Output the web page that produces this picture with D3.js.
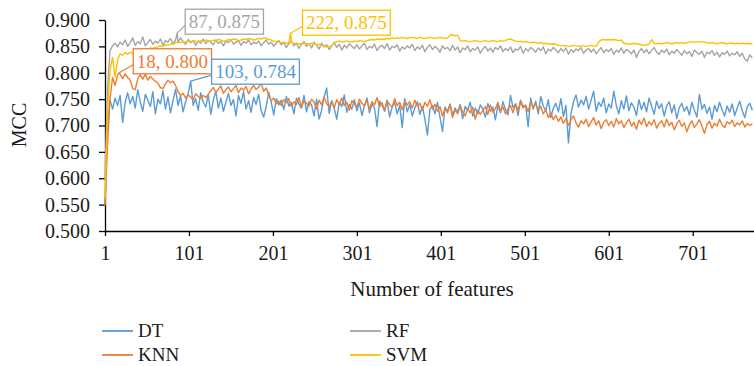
<!DOCTYPE html>
<html>
<head>
<meta charset="utf-8">
<script src="https://cdn.jsdelivr.net/npm/d3@7"></script>
<style>
  body { margin: 0; background: #fff; }
  svg { display: block; }
  text { font-family: "Liberation Serif", "Times New Roman", serif; }
</style>
</head>
<body>
<svg id="chart" width="754" height="366"></svg>
<script>
// MCC of each classifier as the number of selected features grows.
// Values are listed every 3 features: 1, 4, 7, ..., 772.
const featureStep = 3;

const dtValues = [
  0.552, 0.702, 0.748, 0.731, 0.752, 0.738, 0.757, 0.706, 0.744, 0.762,
  0.741, 0.755, 0.733, 0.768, 0.745, 0.727, 0.759, 0.748, 0.736, 0.764,
  0.722, 0.750, 0.741, 0.766, 0.731, 0.754, 0.724, 0.747, 0.769, 0.738,
  0.756, 0.726, 0.745, 0.760, 0.784, 0.738, 0.751, 0.729, 0.762, 0.744,
  0.735, 0.758, 0.721, 0.748, 0.765, 0.733, 0.752, 0.727, 0.744, 0.761,
  0.738, 0.749, 0.718, 0.757, 0.742, 0.764, 0.731, 0.747, 0.725, 0.753,
  0.740, 0.759, 0.728, 0.716, 0.736, 0.763, 0.744, 0.720, 0.751, 0.739,
  0.748, 0.730, 0.755, 0.737, 0.744, 0.722, 0.752, 0.741, 0.733, 0.757,
  0.726, 0.745, 0.739, 0.718, 0.750, 0.712, 0.729, 0.754, 0.771, 0.723,
  0.747, 0.733, 0.712, 0.744, 0.736, 0.758, 0.725, 0.740, 0.731, 0.749,
  0.728, 0.743, 0.719, 0.737, 0.752, 0.724, 0.741, 0.733, 0.698, 0.746,
  0.739, 0.727, 0.748, 0.716, 0.735, 0.744, 0.722, 0.738, 0.696, 0.751,
  0.726, 0.740, 0.718, 0.733, 0.745, 0.721, 0.736, 0.712, 0.682, 0.731,
  0.738, 0.722, 0.744, 0.716, 0.689, 0.735, 0.727, 0.741, 0.719, 0.733,
  0.725, 0.740, 0.713, 0.736, 0.729, 0.744, 0.718, 0.733, 0.722, 0.739,
  0.731, 0.716, 0.742, 0.727, 0.735, 0.711, 0.738, 0.724, 0.745, 0.730,
  0.720, 0.757, 0.734, 0.741, 0.719, 0.748, 0.736, 0.738, 0.698, 0.752,
  0.731, 0.746, 0.722, 0.755, 0.737, 0.728, 0.749, 0.715, 0.733, 0.742,
  0.726, 0.751, 0.717, 0.738, 0.667, 0.722, 0.745, 0.758, 0.735, 0.748,
  0.739, 0.755, 0.731, 0.748, 0.765, 0.727, 0.744, 0.736, 0.752, 0.724,
  0.741, 0.733, 0.765, 0.738, 0.722, 0.747, 0.731, 0.756, 0.728, 0.743,
  0.735, 0.719, 0.749, 0.730, 0.744, 0.726, 0.752, 0.737, 0.721, 0.746,
  0.732, 0.741, 0.718, 0.737, 0.745, 0.724, 0.739, 0.713, 0.734, 0.742,
  0.727, 0.736, 0.720, 0.744, 0.729, 0.716, 0.759, 0.731, 0.740, 0.723,
  0.735, 0.712, 0.738, 0.726, 0.744, 0.730, 0.718, 0.737, 0.725, 0.741,
  0.719, 0.733, 0.746, 0.728, 0.715, 0.736, 0.742, 0.729
];

const knnValues = [
  0.548, 0.662, 0.752, 0.791, 0.776, 0.796, 0.797, 0.789, 0.798, 0.791,
  0.786, 0.770, 0.768, 0.789, 0.796, 0.788, 0.797, 0.786, 0.793, 0.788,
  0.784, 0.780, 0.772, 0.770, 0.779, 0.786, 0.781, 0.784, 0.776, 0.764,
  0.757, 0.761, 0.752, 0.758, 0.754, 0.749, 0.760, 0.755, 0.751, 0.757,
  0.753, 0.759, 0.766, 0.772, 0.763, 0.769, 0.775, 0.761, 0.768, 0.773,
  0.764, 0.770, 0.776, 0.762, 0.771, 0.767, 0.774, 0.760, 0.769, 0.776,
  0.768, 0.773, 0.780, 0.765, 0.771, 0.758, 0.747, 0.752, 0.741, 0.746,
  0.738, 0.749, 0.743, 0.751, 0.736, 0.745, 0.740, 0.753, 0.734, 0.747,
  0.742, 0.737, 0.750, 0.744, 0.731, 0.748, 0.739, 0.754, 0.741, 0.736,
  0.746, 0.733, 0.749, 0.740, 0.752, 0.738, 0.744, 0.729, 0.747, 0.741,
  0.735, 0.750, 0.742, 0.737, 0.748, 0.731, 0.745, 0.739, 0.753, 0.736,
  0.743, 0.728, 0.747, 0.740, 0.734, 0.751, 0.738, 0.744, 0.730, 0.746,
  0.739, 0.745, 0.733, 0.748, 0.737, 0.742, 0.729, 0.744, 0.736, 0.749,
  0.731, 0.740, 0.727, 0.736, 0.718, 0.733, 0.724, 0.739, 0.715, 0.730,
  0.722, 0.737, 0.726, 0.718, 0.732, 0.724, 0.735, 0.712, 0.729, 0.721,
  0.728, 0.736, 0.721, 0.739, 0.725, 0.732, 0.744, 0.727, 0.735, 0.722,
  0.731, 0.738, 0.724, 0.741, 0.729, 0.746, 0.733, 0.739, 0.726, 0.744,
  0.735, 0.741, 0.728, 0.736, 0.722, 0.730, 0.715, 0.724, 0.711, 0.719,
  0.708, 0.716, 0.704, 0.713, 0.700, 0.711, 0.718, 0.705, 0.697, 0.709,
  0.703, 0.712, 0.698, 0.707, 0.715, 0.701, 0.709, 0.694, 0.706, 0.711,
  0.700, 0.708, 0.697, 0.713, 0.703, 0.709, 0.696, 0.705, 0.712, 0.699,
  0.706, 0.693, 0.710, 0.702, 0.714, 0.698, 0.707, 0.701, 0.711, 0.695,
  0.704, 0.709, 0.697, 0.712, 0.700, 0.706, 0.692, 0.703, 0.710, 0.698,
  0.705, 0.688, 0.701, 0.709, 0.696, 0.703, 0.711, 0.699, 0.685, 0.702,
  0.708, 0.695, 0.704, 0.699, 0.712, 0.701, 0.696, 0.707, 0.703, 0.710,
  0.698, 0.705, 0.701, 0.709, 0.697, 0.704, 0.700, 0.703
];

const rfValues = [
  0.598, 0.768, 0.842, 0.851, 0.856, 0.849, 0.858, 0.853, 0.862, 0.850,
  0.857, 0.866, 0.852, 0.859, 0.855, 0.868, 0.851, 0.857, 0.863, 0.854,
  0.860, 0.856, 0.864, 0.852, 0.861, 0.858, 0.865, 0.855, 0.862, 0.857,
  0.866, 0.859, 0.854, 0.863, 0.857, 0.861, 0.852, 0.860, 0.856, 0.864,
  0.855, 0.861, 0.858, 0.853, 0.862, 0.856, 0.859, 0.851, 0.860, 0.857,
  0.863, 0.854, 0.858, 0.861, 0.852, 0.859, 0.856, 0.862, 0.853, 0.858,
  0.855, 0.860, 0.851, 0.857, 0.862, 0.854, 0.858, 0.850, 0.856, 0.861,
  0.853, 0.858, 0.848, 0.855, 0.860, 0.851, 0.856, 0.846, 0.854, 0.859,
  0.850, 0.855, 0.847, 0.858, 0.852, 0.845, 0.856, 0.849, 0.853, 0.844,
  0.851, 0.857, 0.848, 0.854, 0.843, 0.852, 0.847, 0.855, 0.850, 0.846,
  0.853, 0.845, 0.851, 0.856, 0.844, 0.850, 0.847, 0.854, 0.842, 0.849,
  0.852, 0.846, 0.855, 0.843, 0.850, 0.848, 0.853, 0.841, 0.849, 0.845,
  0.851, 0.847, 0.854, 0.842, 0.849, 0.845, 0.852, 0.840, 0.848, 0.853,
  0.844, 0.850, 0.846, 0.839, 0.851, 0.845, 0.848, 0.842, 0.852, 0.843,
  0.849, 0.838, 0.847, 0.844, 0.851, 0.840, 0.846, 0.843, 0.849, 0.837,
  0.845, 0.850, 0.841, 0.847, 0.839, 0.848, 0.844, 0.851, 0.840, 0.846,
  0.842, 0.849, 0.838, 0.845, 0.843, 0.850, 0.837, 0.846, 0.841, 0.848,
  0.844, 0.839, 0.847, 0.842, 0.849, 0.836, 0.845, 0.841, 0.848, 0.843,
  0.838, 0.846, 0.840, 0.847, 0.835, 0.844, 0.839, 0.845, 0.842, 0.848,
  0.837, 0.843, 0.846, 0.839, 0.845, 0.836, 0.842, 0.848, 0.838, 0.844,
  0.840, 0.846, 0.835, 0.843, 0.839, 0.847, 0.837, 0.844, 0.841, 0.836,
  0.843, 0.829, 0.840, 0.846, 0.838, 0.844, 0.836, 0.842, 0.848, 0.839,
  0.835, 0.843, 0.838, 0.845, 0.834, 0.841, 0.837, 0.844, 0.839, 0.833,
  0.842, 0.836, 0.840, 0.831, 0.843, 0.838, 0.835, 0.841, 0.829, 0.839,
  0.836, 0.842, 0.833, 0.839, 0.830, 0.838, 0.835, 0.841, 0.832, 0.837,
  0.834, 0.840, 0.831, 0.837, 0.826, 0.822, 0.834, 0.828
];

const svmValues = [
  0.562, 0.728, 0.805, 0.829, 0.792, 0.824, 0.836, 0.833, 0.838, 0.835,
  0.839, 0.836, 0.841, 0.840, 0.843, 0.842, 0.845, 0.844, 0.847, 0.846,
  0.848, 0.849, 0.851, 0.850, 0.853, 0.852, 0.855, 0.854, 0.857, 0.858,
  0.857, 0.859, 0.858, 0.860, 0.859, 0.861, 0.860, 0.859, 0.861, 0.860,
  0.862, 0.861, 0.860, 0.862, 0.861, 0.863, 0.862, 0.860, 0.861, 0.863,
  0.862, 0.864, 0.863, 0.861, 0.862, 0.864, 0.863, 0.865, 0.864, 0.862,
  0.863, 0.865, 0.864, 0.866, 0.865, 0.863, 0.862, 0.860, 0.859, 0.858,
  0.857, 0.858, 0.856, 0.857, 0.858, 0.855, 0.856, 0.854, 0.855, 0.856,
  0.855, 0.854, 0.856, 0.855, 0.853, 0.854, 0.852, 0.850, 0.849, 0.850,
  0.851, 0.858, 0.859, 0.860, 0.858, 0.859, 0.860, 0.859, 0.858, 0.860,
  0.859, 0.861, 0.860, 0.859, 0.861, 0.862, 0.863, 0.862, 0.864, 0.863,
  0.864, 0.863, 0.865, 0.864, 0.866, 0.865, 0.866, 0.865, 0.867, 0.866,
  0.865, 0.866, 0.867, 0.866, 0.865, 0.867, 0.866, 0.865, 0.866, 0.867,
  0.866, 0.865, 0.866, 0.867, 0.866, 0.865, 0.866, 0.871, 0.872, 0.870,
  0.871, 0.861, 0.860, 0.861, 0.860, 0.859, 0.860, 0.861, 0.860, 0.859,
  0.860, 0.861, 0.859, 0.860, 0.861, 0.860, 0.859, 0.861, 0.860, 0.861,
  0.863, 0.864, 0.862, 0.860, 0.859, 0.860, 0.858, 0.859, 0.858, 0.857,
  0.858, 0.857, 0.856, 0.857, 0.855, 0.856, 0.855, 0.854, 0.855, 0.854,
  0.852, 0.851, 0.852, 0.851, 0.850, 0.851, 0.852, 0.851, 0.850, 0.851,
  0.851, 0.850, 0.851, 0.852, 0.851, 0.850, 0.858, 0.862, 0.863, 0.862,
  0.863, 0.862, 0.863, 0.862, 0.861, 0.862, 0.856, 0.855, 0.854, 0.855,
  0.856, 0.855, 0.854, 0.853, 0.852, 0.853, 0.854, 0.863, 0.856, 0.855,
  0.856, 0.855, 0.856, 0.857, 0.856, 0.855, 0.856, 0.857, 0.856, 0.857,
  0.856, 0.857, 0.858, 0.859, 0.858, 0.859, 0.858, 0.859, 0.858, 0.857,
  0.856, 0.857, 0.856, 0.855, 0.856, 0.857, 0.856, 0.855, 0.856, 0.856,
  0.855, 0.856, 0.855, 0.856, 0.855, 0.856, 0.855, 0.855
];

// Best score of each model, shown in a callout.
const bestPoints = [
  { model: "RF",  feature: 87,  mcc: 0.875 },
  { model: "KNN", feature: 18,  mcc: 0.800 },
  { model: "DT",  feature: 103, mcc: 0.784 },
  { model: "SVM", feature: 222, mcc: 0.875 }
];

const modelNames  = ["DT", "KNN", "RF", "SVM"];
const modelValues = [dtValues, knnValues, rfValues, svmValues];
const modelColors = ["#5B9BD5", "#ED7D31", "#A5A5A5", "#FFC000"];

const yTickValues = [0.500, 0.550, 0.600, 0.650, 0.700, 0.750, 0.800, 0.850, 0.900];
const xTickValues = [1, 101, 201, 301, 401, 501, 601, 701];

const svg = d3.select("#chart");
const FONT = 20;

const x = d3.scaleLinear().domain([1, 774]).range([105, 754]);
const y = d3.scaleLinear().domain([0.5, 0.9]).range([231, 20]);

// Build each series from the sampled values plus its best point.
const series = modelNames.map((name, k) => {
  const byFeature = new Map();
  modelValues[k].forEach((v, i) => byFeature.set(1 + featureStep * i, v));
  bestPoints.filter(b => b.model === name).forEach(b => byFeature.set(b.feature, b.mcc));
  const pts = Array.from(byFeature, ([f, v]) => ({ f, v })).sort((a, b) => a.f - b.f);
  return { name, color: modelColors[k], pts };
});

// Axes
const yAxis = d3.axisLeft(y)
  .tickValues(yTickValues)
  .tickFormat(d3.format(".3f"))
  .tickSize(6).tickSizeOuter(0).tickPadding(9);
const xAxis = d3.axisBottom(x)
  .tickValues(xTickValues)
  .tickFormat(d3.format("d"))
  .tickSize(5).tickSizeOuter(0).tickPadding(10);

function styleAxis(g) {
  g.selectAll("path.domain").attr("stroke", "#000").attr("stroke-width", 1.3);
  g.selectAll(".tick line").attr("stroke", "#000").attr("stroke-width", 1.3);
  g.selectAll(".tick text")
    .attr("fill", "#1a1a1a")
    .style("font-family", "'Liberation Serif', serif")
    .style("font-size", FONT + "px");
}

svg.append("g").attr("transform", "translate(105,0)").call(yAxis).call(styleAxis);
svg.append("g").attr("transform", "translate(0,231)").call(xAxis).call(styleAxis);

// Lines
const line = d3.line().x(d => x(d.f)).y(d => y(d.v));
svg.append("g").selectAll("path")
  .data(series)
  .join("path")
  .attr("d", d => line(d.pts))
  .attr("fill", "none")
  .attr("stroke", d => d.color)
  .attr("stroke-width", 1.4)
  .attr("stroke-linejoin", "round");

// Callouts for the best points
const calloutOffsets = {
  RF:  { dx: 8,  dy: -24 },
  KNN: { dx: 14, dy: -24 },
  DT:  { dx: 21, dy: -22 },
  SVM: { dx: 12, dy: -23 }
};
const fmt3 = d3.format(".3f");
const callouts = svg.append("g");
bestPoints.forEach(b => {
  const color = modelColors[modelNames.indexOf(b.model)];
  const px = x(b.feature), py = y(b.mcc);
  const off = calloutOffsets[b.model];
  const bx = px + off.dx, by = py + off.dy, bh = 25;
  const g = callouts.append("g");
  g.append("line")
    .attr("x1", px).attr("y1", py)
    .attr("x2", bx).attr("y2", by + 16)
    .attr("stroke", color).attr("stroke-width", 1.2);
  const rect = g.append("rect")
    .attr("x", bx).attr("y", by).attr("height", bh)
    .attr("fill", "#fff").attr("stroke", color).attr("stroke-width", 1.3);
  const t = g.append("text")
    .attr("y", by + bh / 2)
    .attr("dy", "0.34em")
    .attr("fill", color)
    .style("font-size", "19px")
    .text(`${b.feature}, ${fmt3(b.mcc)}`);
  const w = t.node().getComputedTextLength();
  rect.attr("width", w + 7);
  t.attr("x", bx + 3.5);
});

// Axis titles
svg.append("text")
  .attr("transform", "translate(26,125) rotate(-90)")
  .attr("text-anchor", "middle")
  .attr("fill", "#1a1a1a")
  .style("font-size", "20px")
  .text("MCC");
svg.append("text")
  .attr("x", 432).attr("y", 296)
  .attr("text-anchor", "middle")
  .attr("fill", "#1a1a1a")
  .style("font-size", "21px")
  .text("Number of features");

// Legend, two columns
const legendPos = {
  DT:  { x: 102, y: 331 },
  KNN: { x: 102, y: 355 },
  RF:  { x: 350, y: 331 },
  SVM: { x: 350, y: 355 }
};
const legend = svg.append("g");
modelNames.forEach((name, k) => {
  const p = legendPos[name];
  legend.append("line")
    .attr("x1", p.x).attr("x2", p.x + 31)
    .attr("y1", p.y).attr("y2", p.y)
    .attr("stroke", modelColors[k]).attr("stroke-width", 1.8);
  legend.append("text")
    .attr("x", p.x + 36).attr("y", p.y)
    .attr("dy", "0.34em")
    .attr("fill", "#1a1a1a")
    .style("font-size", "19px")
    .text(name);
});
</script>
</body>
</html>
